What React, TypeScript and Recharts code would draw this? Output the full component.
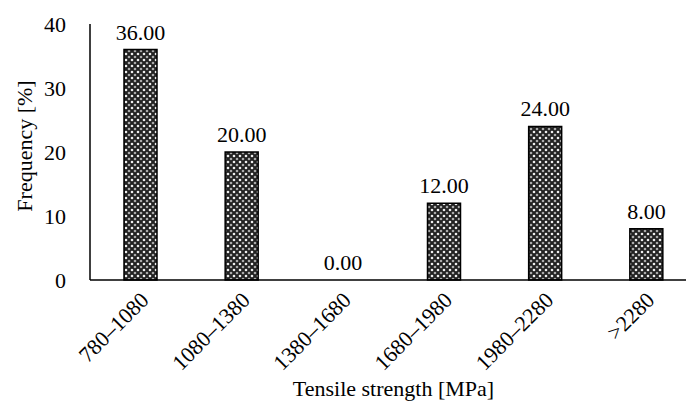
import { ComposedChart, Bar, Line, XAxis, YAxis, LabelList } from "recharts";

const categories = ["780–1080", "1080–1380", "1380–1680", "1680–1980", "1980–2280", ">2280"];
const frequency = [36, 20, 0, 12, 24, 8];
const yTicks = [0, 10, 20, 30, 40];

const data = categories.map((name, i) => ({ name, value: frequency[i] }));

const FONT = "'Liberation Serif', 'Times New Roman', serif";
const FS = 22;

const XTick = ({ x, y, payload }: any) => (
  <g transform={`translate(${x + 4},${y + 8})`}>
    <text
      transform="rotate(-45)"
      textAnchor="end"
      fontFamily={FONT}
      fontSize={FS}
      fill="#000"
      dy="0.35em"
    >
      {payload.value}
    </text>
  </g>
);

export default function App() {
  return (
    <div style={{ position: "absolute", left: 0, top: 0, width: 686, height: 401, overflow: "hidden", background: "#fff" }}>
      <ComposedChart
        width={700}
        height={401}
        data={data}
        margin={{ top: 24, right: 3, left: 0, bottom: 0 }}
      >
        <defs>
          <pattern id="hatch" width="6" height="6" patternUnits="userSpaceOnUse">
            <rect width="6" height="6" fill="#222" />
            <circle cx="0" cy="0" r="1.3" fill="#eee" />
            <circle cx="6" cy="0" r="1.3" fill="#eee" />
            <circle cx="0" cy="6" r="1.3" fill="#eee" />
            <circle cx="6" cy="6" r="1.3" fill="#eee" />
            <circle cx="3" cy="3" r="1.3" fill="#aaa" />
          </pattern>
        </defs>
        <XAxis
          dataKey="name"
          height={121}
          axisLine={{ stroke: "#000", strokeWidth: 1.5 }}
          tickLine={false}
          interval={0}
          tick={<XTick />}
          label={{
            value: "Tensile strength [MPa]",
            position: "insideBottom",
            offset: 5,
            style: { fontFamily: FONT, fontSize: FS, fill: "#000" },
          }}
        />
        <YAxis
          width={90}
          domain={[0, 40]}
          ticks={yTicks}
          axisLine={{ stroke: "#000", strokeWidth: 1.5 }}
          tickLine={false}
          tickMargin={18}
          tick={{ fontFamily: FONT, fontSize: FS, fill: "#000" }}
          label={{
            value: "Frequency [%]",
            angle: -90,
            position: "insideLeft",
            offset: 24,
            dy: -6,
            style: { fontFamily: FONT, fontSize: FS, fill: "#000", textAnchor: "middle" },
          }}
        />
        <Bar dataKey="value" fill="url(#hatch)" stroke="#000" strokeWidth={1.5} barSize={33} isAnimationActive={false} />
        <Line dataKey="value" stroke="none" dot={false} activeDot={false} legendType="none" isAnimationActive={false}>
          <LabelList
            dataKey="value"
            position="top"
            offset={10}
            formatter={(v: any) => Number(v).toFixed(2)}
            style={{ fontFamily: FONT, fontSize: FS, fill: "#000" }}
          />
        </Line>
      </ComposedChart>
    </div>
  );
}
